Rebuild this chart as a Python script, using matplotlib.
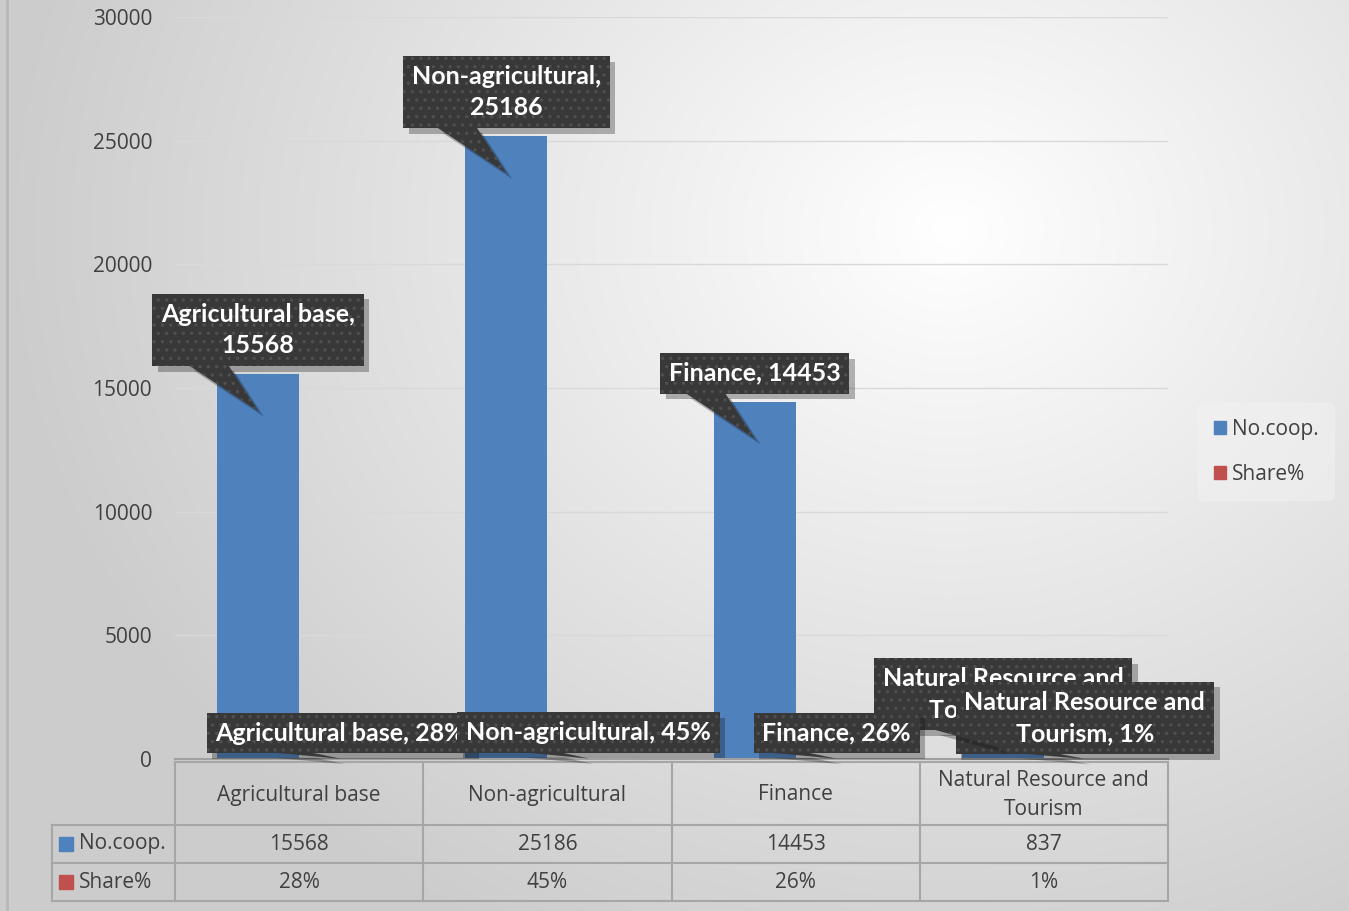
import matplotlib.pyplot as plt
import matplotlib.patheffects as pe
from matplotlib.patches import Patch, Polygon
from matplotlib.lines import Line2D
from matplotlib.transforms import IdentityTransform
import numpy as np

plt.rcParams['font.family'] = ['Open Sans', 'DejaVu Sans']
plt.rcParams['hatch.linewidth'] = 1.2

categories = ['Agricultural base', 'Non-agricultural', 'Finance', 'Natural Resource and\nTourism']
no_coop = [15568, 25186, 14453, 837]
share = [28, 45, 26, 1]
share_text = ['28%', '45%', '26%', '1%']
series = ['No.coop.', 'Share%']
colors = ['#4F81BD', '#C0504D']
# how excel wrapped the value labels
coop_sep = [',\n', ',\n', ', ', ', ']

W, H = 1349, 911
fig = plt.figure(figsize=(W / 100, H / 100), dpi=100)


def px(l, t, r, b):
    return [l / W, 1 - b / H, (r - l) / W, (b - t) / H]


# radial background like the office chart style
yy, xx = np.mgrid[0:H, 0:W]
r = np.hypot((xx - 950) / 1000, (yy - 230) / 850)
g = np.clip(1 - 0.21 * r, 0.8, 1)
fig.figimage(np.dstack([g, g, g]), 0, 0, origin='upper', zorder=-10)
fig.add_artist(Line2D([7 / W, 7 / W], [0, 1], color='#b8b8b8', lw=2))

ax = fig.add_axes(px(175, 17, 1168, 759))
ax.set_facecolor('none')
x = np.arange(len(categories))
bw = 0.33
ax.bar(x - bw / 2, no_coop, bw, color=colors[0], zorder=2)
ax.bar(x + bw / 2, share, bw, color=colors[1], zorder=2)
ax.set_xlim(-0.5, 3.5)
ax.set_ylim(0, 30000)
ax.set_yticks(range(0, 30001, 5000))
ax.yaxis.grid(True, color='#d9d9d9', lw=1)
ax.set_axisbelow(True)
ax.tick_params(axis='y', length=0, pad=16.5, labelsize=15, labelcolor='#404040')
ax.set_xticks([])
for s in ['top', 'right', 'left']:
    ax.spines[s].set_visible(False)
ax.spines['bottom'].set_color('#a0a0a0')
ax.spines['bottom'].set_linewidth(1.5)


class Shadow(pe.SimplePatchShadow):
    # plain shadow, without the hatch of the callout
    def draw_path(self, renderer, gc, tpath, affine, rgbFace):
        gc0 = renderer.new_gc()
        gc0.copy_properties(gc)
        gc0.set_hatch(None)
        super().draw_path(renderer, gc0, tpath, affine, rgbFace)


shadow = [Shadow(offset=(4, -4), alpha=0.3), pe.Normal()]
FS = 18
PAD = 0.35


def callout(xc, val, text, gap, z):
    tip = val - min(1500, val * 0.5)
    tx, ty = ax.transData.transform((xc, tip))
    _, top = ax.transData.transform((xc, val))
    padpx = PAD * FS * 100 / 72
    lift = (top - ty) + gap + padpx
    t = ax.annotate(text, xy=(xc, tip), xytext=(0, lift), textcoords='offset pixels',
                    ha='center', va='bottom', color='white', fontsize=FS,
                    fontweight='bold', family=['Lato', 'DejaVu Sans'], linespacing=1.45,
                    zorder=z, annotation_clip=False,
                    bbox=dict(boxstyle=f'square,pad={PAD}', fc='#383838', ec='#4f4f4f',
                              lw=0, hatch='..'))
    t.get_bbox_patch().set_path_effects(shadow)
    base = ty + lift - padpx + 1
    p = Polygon([[tx - 70, base], [tx - 30, base], [tx, ty]], closed=True,
                transform=IdentityTransform(), fc='#383838', ec='#4f4f4f', lw=0,
                hatch='..', zorder=z - 0.5, path_effects=shadow)
    fig.add_artist(p)


for i in range(len(categories)):
    callout(x[i] - bw / 2, no_coop[i], f'{categories[i]}{coop_sep[i]}{no_coop[i]}', 8, 5 + i)
for i in range(len(categories)):
    callout(x[i] + bw / 2, share[i], f'{categories[i]}, {share_text[i]}', 5, 10 + i)

# legend
handles = [Patch(color=c) for c in colors]
fig.legend(handles, series, loc='center left', bbox_to_anchor=(1198 / W, 1 - 452 / H),
           frameon=True, facecolor='#f2f2f2', edgecolor='none', framealpha=0.5,
           fontsize=15, labelcolor='#404040', handlelength=0.6, handleheight=0.6,
           handletextpad=0.3, labelspacing=1.15, borderpad=0.75, borderaxespad=0)

# data table
tax = fig.add_axes(px(175, 762, 1168, 901))
tax.set_xlim(-0.5, 3.5)
tax.set_ylim(139, 0)
tax.axis('off')
rows = [0, 63, 101, 139]
xl = -0.5 - 123 / 248.25
lc = '#a6a6a6'
tax.plot([-0.5, 3.5], [0, 0], color=lc, lw=1.5, clip_on=False)
for yv in rows[1:]:
    tax.plot([xl, 3.5], [yv, yv], color=lc, lw=1.5, clip_on=False)
tax.plot([xl, xl], [rows[1], rows[3]], color=lc, lw=1.5, clip_on=False)
for k in range(len(categories) + 1):
    tax.plot([k - 0.5, k - 0.5], [0, 139], color=lc, lw=1.5, clip_on=False)
for i, c in enumerate(categories):
    tax.text(i, 33, c, ha='center', va='center', fontsize=15, color='#404040',
             linespacing=1.45)
    tax.text(i, 82.5, str(no_coop[i]), ha='center', va='center', fontsize=15, color='#404040')
    tax.text(i, 120.5, share_text[i], ha='center', va='center', fontsize=15, color='#404040')
for j, (name, col) in enumerate(zip(series, colors)):
    yc = (rows[j + 1] + rows[j + 2]) / 2
    tax.plot([xl + 0.055], [yc], marker='s', ms=10, color=col, clip_on=False)
    tax.text(xl + 0.11, yc, name, ha='left', va='center', fontsize=15, color='#404040')

fig.savefig('out.png', dpi=100)
